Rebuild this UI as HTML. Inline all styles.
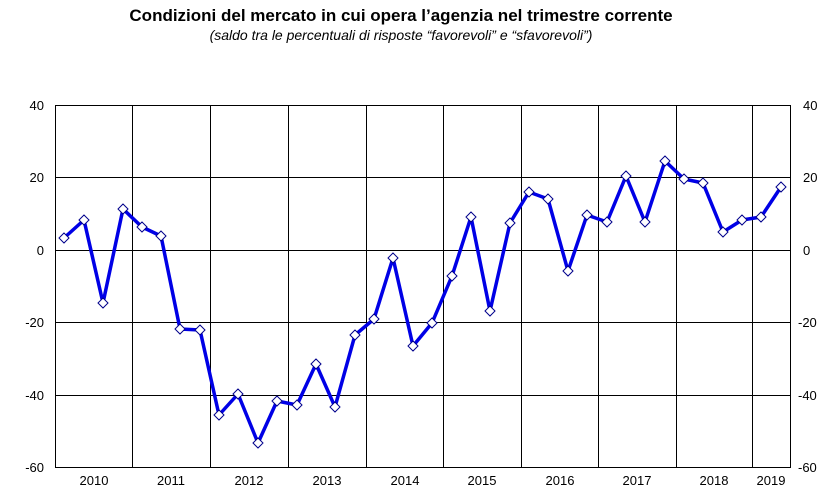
<!DOCTYPE html>
<html><head><meta charset="utf-8"><style>
body{margin:0;background:#fff;}
svg{display:block;font-family:"Liberation Sans",Arial,sans-serif;}
</style></head><body>
<svg width="839" height="503" viewBox="0 0 839 503" xmlns="http://www.w3.org/2000/svg">
<rect width="839" height="503" fill="#fff"/>
<text x="401" y="21" text-anchor="middle" font-size="17" font-weight="bold">Condizioni del mercato in cui opera l’agenzia nel trimestre corrente</text>
<text x="401" y="40" text-anchor="middle" font-size="14" font-style="italic">(saldo tra le percentuali di risposte “favorevoli” e “sfavorevoli”)</text>
<g stroke="#000" stroke-width="1" fill="none">
<rect x="55.5" y="105.5" width="735" height="362"/>
<line x1="55" y1="177.5" x2="790" y2="177.5"/>
<line x1="55" y1="250.5" x2="790" y2="250.5"/>
<line x1="55" y1="322.5" x2="790" y2="322.5"/>
<line x1="55" y1="395.5" x2="790" y2="395.5"/>
<line x1="132.5" y1="105" x2="132.5" y2="467"/>
<line x1="210.5" y1="105" x2="210.5" y2="467"/>
<line x1="288.5" y1="105" x2="288.5" y2="467"/>
<line x1="366.5" y1="105" x2="366.5" y2="467"/>
<line x1="443.5" y1="105" x2="443.5" y2="467"/>
<line x1="521.5" y1="105" x2="521.5" y2="467"/>
<line x1="598.5" y1="105" x2="598.5" y2="467"/>
<line x1="676.5" y1="105" x2="676.5" y2="467"/>
<line x1="752.5" y1="105" x2="752.5" y2="467"/>
</g>
<g font-size="13" text-anchor="end">
<text x="44" y="110">40</text><text x="44" y="182">20</text><text x="44" y="255">0</text>
<text x="44" y="327">-20</text><text x="44" y="400">-40</text><text x="44" y="472">-60</text>
</g>
<g font-size="13" text-anchor="start">
<text x="803" y="110">40</text><text x="803" y="182">20</text><text x="803" y="255">0</text>
<text x="798" y="327">-20</text><text x="798" y="400">-40</text><text x="798" y="472">-60</text>
</g>
<g font-size="13" text-anchor="middle">
<text x="94" y="485">2010</text><text x="171" y="485">2011</text><text x="249" y="485">2012</text>
<text x="327" y="485">2013</text><text x="405" y="485">2014</text><text x="482" y="485">2015</text>
<text x="560" y="485">2016</text><text x="637" y="485">2017</text><text x="714" y="485">2018</text>
<text x="771" y="485">2019</text>
</g>
<polyline fill="none" stroke="#0000e6" stroke-width="3.5" stroke-linejoin="round" points="64,238 84,220 103,303 123,209 142,227 161,236 180,329 200,330 219,415 238,394 258,443 277,401 297,405 316,364 335,407 355,335 374,319 393,258 413,346 432,323 452,276 471,217 490,311 510,223 529,192 548,199 568,271 587,215 607,222 626,176 645,222 665,161 684,179 703,183 723,232 742,220 761,217 781,187"/>
<g fill="#fff" stroke="#00008b" stroke-width="1">
<path d="M64,233l5,5l-5,5l-5,-5z M84,215l5,5l-5,5l-5,-5z M103,298l5,5l-5,5l-5,-5z M123,204l5,5l-5,5l-5,-5z M142,222l5,5l-5,5l-5,-5z M161,231l5,5l-5,5l-5,-5z M180,324l5,5l-5,5l-5,-5z M200,325l5,5l-5,5l-5,-5z M219,410l5,5l-5,5l-5,-5z M238,389l5,5l-5,5l-5,-5z M258,438l5,5l-5,5l-5,-5z M277,396l5,5l-5,5l-5,-5z M297,400l5,5l-5,5l-5,-5z M316,359l5,5l-5,5l-5,-5z M335,402l5,5l-5,5l-5,-5z M355,330l5,5l-5,5l-5,-5z M374,314l5,5l-5,5l-5,-5z M393,253l5,5l-5,5l-5,-5z M413,341l5,5l-5,5l-5,-5z M432,318l5,5l-5,5l-5,-5z M452,271l5,5l-5,5l-5,-5z M471,212l5,5l-5,5l-5,-5z M490,306l5,5l-5,5l-5,-5z M510,218l5,5l-5,5l-5,-5z M529,187l5,5l-5,5l-5,-5z M548,194l5,5l-5,5l-5,-5z M568,266l5,5l-5,5l-5,-5z M587,210l5,5l-5,5l-5,-5z M607,217l5,5l-5,5l-5,-5z M626,171l5,5l-5,5l-5,-5z M645,217l5,5l-5,5l-5,-5z M665,156l5,5l-5,5l-5,-5z M684,174l5,5l-5,5l-5,-5z M703,178l5,5l-5,5l-5,-5z M723,227l5,5l-5,5l-5,-5z M742,215l5,5l-5,5l-5,-5z M761,212l5,5l-5,5l-5,-5z M781,182l5,5l-5,5l-5,-5z"/>
</g>
</svg>
</body></html>
